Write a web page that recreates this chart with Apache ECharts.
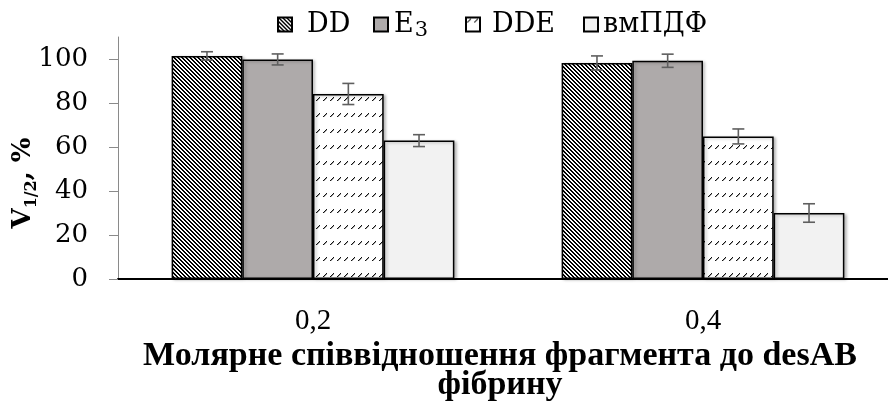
<!DOCTYPE html>
<html>
<head>
<meta charset="utf-8">
<script src="https://cdn.jsdelivr.net/npm/echarts@6/dist/echarts.min.js"></script>
<style>
  html, body { margin: 0; padding: 0; background: #fff; }
  #chart { width: 888px; height: 405px; }
</style>
</head>
<body>
<div id="chart"></div>
<script>
// Molar ratio categories
const categories = ['0,2', '0,4'];
const seriesNames = ['DD', 'E3', 'DDE', 'вмПДФ'];

// V1/2, % — means
const ddValues  = [101.4, 98.2];
const e3Values  = [99.8, 99.2];
const ddeValues = [84.1, 64.8];
const pdfValues = [62.9, 30.0];

// Standard deviations
const ddErr  = [1.9, 3.2];
const e3Err  = [2.5, 3.0];
const ddeErr = [4.8, 3.4];
const pdfErr = [2.7, 4.2];

const yTicks = [0, 20, 40, 60, 80, 100];

const SERIF = "'DejaVu Serif', 'Liberation Serif', serif";
const BAR_CATEGORY_GAP = 0.275;

// Hatch fill: wide downward diagonal stripes
function stripePattern() {
  const c = document.createElement('canvas');
  c.width = 8; c.height = 8;
  const ctx = c.getContext('2d');
  const img = ctx.createImageData(8, 8);
  for (let y = 0; y < 8; y++) {
    for (let x = 0; x < 8; x++) {
      const k = (((x - y) % 4) + 4) % 4;
      const v = k < 2 ? 0 : 255;
      const i = (y * 8 + x) * 4;
      img.data[i] = v; img.data[i + 1] = v; img.data[i + 2] = v; img.data[i + 3] = 255;
    }
  }
  ctx.putImageData(img, 0, 0);
  return c;
}

// Dashed upward diagonal fill
function dashPattern() {
  const w = 7, h = 16;
  const c = document.createElement('canvas');
  c.width = w; c.height = h;
  const ctx = c.getContext('2d');
  ctx.fillStyle = '#fff';
  ctx.fillRect(0, 0, w, h);
  ctx.fillStyle = '#111';
  const pts = [[1, 4], [2, 3], [3, 2], [4, 1]];
  pts.forEach(p => ctx.fillRect(p[0], p[1], 1, 1));
  ctx.fillStyle = 'rgba(0,0,0,0.35)';
  [[2, 4], [3, 3], [4, 2]].forEach(p => ctx.fillRect(p[0], p[1], 1, 1));
  return c;
}

const fills = [
  { image: stripePattern(), repeat: 'repeat' },
  '#aeaaaa',
  { image: dashPattern(), repeat: 'repeat' },
  '#f2f2f2'
];

const valueSets = [ddValues, e3Values, ddeValues, pdfValues];
const errSets = [ddErr, e3Err, ddeErr, pdfErr];

const barSeries = valueSets.map((vals, i) => ({
  name: seriesNames[i],
  type: 'bar',
  data: vals,
  barGap: '0%',
  barCategoryGap: (BAR_CATEGORY_GAP * 100) + '%',
  itemStyle: {
    color: fills[i],
    borderColor: '#000',
    borderWidth: 1.5,
    shadowColor: 'rgba(0,0,0,0.25)',
    shadowBlur: 3,
    shadowOffsetX: 2,
    shadowOffsetY: 1
  },
  emphasis: { disabled: true }
}));

// Error bar data: [category index, series index, low, high]
const errorData = [];
valueSets.forEach((vals, s) => {
  vals.forEach((v, c) => {
    errorData.push([c, s, v - errSets[s][c], v + errSets[s][c]]);
  });
});

const errorSeries = {
  type: 'custom',
  name: 'err',
  data: errorData,
  encode: { x: 0, y: [2, 3] },
  z: 10,
  silent: true,
  renderItem: function (params, api) {
    const band = api.size([1, 0])[0];
    const bw = band * (1 - BAR_CATEGORY_GAP) / seriesNames.length;
    const x = api.coord([api.value(0), 0])[0] + (api.value(1) - 1.5) * bw;
    const yLow = api.coord([api.value(0), api.value(2)])[1];
    const yHigh = api.coord([api.value(0), api.value(3)])[1];
    const cap = 6;
    const style = { stroke: '#5f5f5f', lineWidth: 1.6 };
    return {
      type: 'group',
      children: [
        { type: 'line', shape: { x1: x, y1: yLow, x2: x, y2: yHigh }, style },
        { type: 'line', shape: { x1: x - cap, y1: yHigh, x2: x + cap, y2: yHigh }, style },
        { type: 'line', shape: { x1: x - cap, y1: yLow, x2: x + cap, y2: yLow }, style }
      ]
    };
  }
};

// One legend block per series so each entry sits at its own spot
const legendLeft = [277, 373, 465, 583];
const legendTextPad = [10, 1, 7, 0];
const legends = seriesNames.map((name, i) => ({
  data: [name],
  top: 11,
  left: legendLeft[i],
  padding: 0,
  icon: 'rect',
  itemWidth: 14,
  itemHeight: 14,
  selectedMode: false,
  textStyle: {
    fontFamily: SERIF,
    fontSize: 27,
    color: '#000',
    padding: [0, 0, 0, legendTextPad[i]],
    rich: {
      n: { fontFamily: SERIF, fontSize: 27, color: '#000' },
      sub: { fontFamily: SERIF, fontSize: 21, color: '#000', padding: [12, 0, 0, 1] }
    }
  },
  formatter: function (n) {
    if (n === 'E3') return '{n|E}{sub|3}';
    return n;
  }
}));

const chart = echarts.init(document.getElementById('chart'), null, { renderer: 'canvas' });
chart.setOption({
  animation: false,
  backgroundColor: '#fff',
  grid: { left: 118, right: -10, top: 37, bottom: 126, outerBoundsMode: 'none', containLabel: false },
  legend: legends,
  xAxis: {
    type: 'category',
    data: categories,
    axisLine: { lineStyle: { color: '#000', width: 2 } },
    axisTick: { show: false },
    axisLabel: {
      margin: 28,
      fontFamily: "'Liberation Serif', serif",
      fontSize: 29,
      color: '#000'
    },
    name: 'Молярне співвідношення фрагмента до desAB\nфібрину',
    nameLocation: 'middle',
    nameGap: 63,
    nameMoveOverlap: false,
    nameTextStyle: {
      fontFamily: "'Liberation Serif', serif",
      fontWeight: 'bold',
      fontSize: 34,
      lineHeight: 29,
      color: '#000',
      padding: [0, 16, 0, 0]
    }
  },
  yAxis: {
    type: 'value',
    min: 0,
    max: 110,
    interval: 20,
    splitLine: { show: false },
    axisLine: { show: true, lineStyle: { color: '#8a8a8a', width: 1 } },
    axisTick: { show: true, length: 9, customValues: yTicks, lineStyle: { color: '#8a8a8a' } },
    axisLabel: {
      customValues: yTicks,
      margin: 30,
      fontFamily: SERIF,
      fontSize: 26,
      color: '#000'
    },
    name: '{v|V}{s|1/2}{v|, %}',
    nameLocation: 'middle',
    nameGap: 78,
    nameRotate: 90,
    nameMoveOverlap: false,
    nameTextStyle: {
      padding: [0, 50, 0, 0],
      rich: {
        v: { fontFamily: SERIF, fontWeight: 'bold', fontSize: 26, lineHeight: 30, color: '#000', verticalAlign: 'top' },
        s: { fontFamily: SERIF, fontWeight: 'bold', fontSize: 16, lineHeight: 16, color: '#000', verticalAlign: 'top', padding: [14, 0, 0, 0] }
      }
    }
  },
  series: barSeries.concat([errorSeries])
});
</script>
</body>
</html>
